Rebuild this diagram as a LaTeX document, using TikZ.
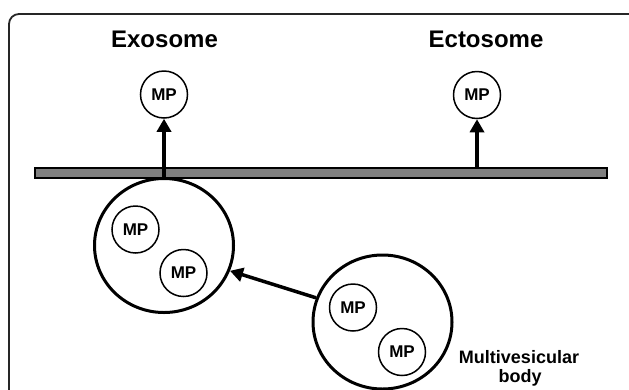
\documentclass[tikz,border=0pt]{standalone}
\usepackage{fontspec}
\setmainfont{Liberation Sans}
\usetikzlibrary{shapes.geometric,arrows.meta}
\tikzset{
  mp/.style={circle, draw, line width=1.5pt, minimum size=47pt, inner sep=0pt,
    font=\bfseries\fontsize{17}{19}\selectfont},
  body/.style={ellipse, draw, line width=3pt, minimum width=139pt, minimum height=134pt, inner sep=0pt},
  title/.style={font=\bfseries\fontsize{24}{28}\selectfont, anchor=base},
  label/.style={font=\bfseries\fontsize{18}{20}\selectfont, anchor=base},
  arr/.style={line width=3.5pt, -{Triangle[width=14pt,length=13pt]}},
  bar/.style={rectangle, draw, line width=1.3pt, fill=black!50, minimum width=572pt, minimum height=10pt, inner sep=0pt}
}
\begin{document}
\begin{tikzpicture}[x=1pt,y=-1pt]
\useasboundingbox (0,0) rectangle (629,389);
\clip (0,0) rectangle (629,389);
\draw[line width=1.8pt, black!85, rounded corners=10pt] (9,14) rectangle (640,420);
% titles
\node[title] (tExo) at (164.5,47) {Exosome};
\node[title] (tEcto) at (486,47) {Ectosome};
% membrane
\node[bar] (bar) at (321,173) {};
% released MPs
\node[mp] (mpA) at (164,94.5) {MP};
\node[mp] (mpB) at (477,95) {MP};
% multivesicular bodies
\node[body] (exo) at (164,245.5) {};
\node[body] (mvb) at (382.5,322) {};
\node[mp] (m1) at (135.5,229.5) {MP};
\node[mp] (m2) at (183.5,273) {MP};
\node[mp] (m3) at (353,307.5) {MP};
\node[mp] (m4) at (402,352) {MP};
% arrows
\draw[arr] (exo.north) -- (mpA.south);
\coordinate (bt) at (bar.north -| mpB.south);
\draw[arr] (bt) -- (mpB.south);
\draw[arr] (mvb.160) -- (exo.-21);
% label
\node[label] (l1) at (519,363) {Multivesicular};
\node[label] (l2) at (520,382.5) {body};
\end{tikzpicture}
\end{document}
